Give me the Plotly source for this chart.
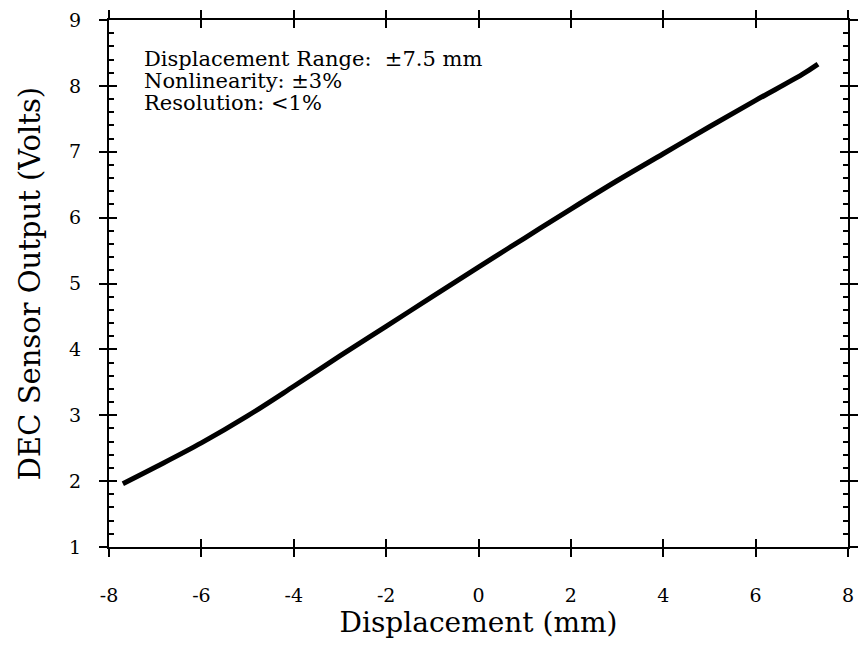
import plotly.graph_objects as go

# Data
disp_mm = [-7.7, -7.0, -6.0, -5.0, -4.0, -3.0, -2.0, -1.0, 0.0, 1.0, 2.0, 3.0, 4.0, 5.0, 6.0, 7.0, 7.35]
volts = [1.96, 2.21, 2.58, 2.99, 3.44, 3.90, 4.35, 4.80, 5.25, 5.69, 6.13, 6.56, 6.97, 7.38, 7.78, 8.17, 8.33]

x_ticks = [-8, -6, -4, -2, 0, 2, 4, 6, 8]
x_labels = ["-8", "-6", "-4", "-2", "0", "2", "4", "6", "8"]
y_ticks = [1, 2, 3, 4, 5, 6, 7, 8, 9]
y_labels = ["1", "2", "3", "4", "5", "6", "7", "8", "9"]
notes = ["Displacement Range:  \u00b17.5 mm", "Nonlinearity: \u00b13%", "Resolution: <1%"]
note_y = [0.926, 0.884, 0.842]

FONT = "DejaVu Serif"

fig = go.Figure()
fig.add_trace(go.Scatter(x=disp_mm, y=volts, mode="lines",
                         line=dict(color="black", width=5, shape="spline"),
                         showlegend=False, hoverinfo="skip"))
# invisible trace to anchor the overlay axes (for crossing ticks)
fig.add_trace(go.Scatter(x=[x_ticks[0]], y=[y_ticks[0]], xaxis="x2", yaxis="y2",
                         mode="markers", marker=dict(opacity=0), showlegend=False,
                         hoverinfo="skip"))

common = dict(showgrid=False, zeroline=False, color="black", automargin=False)
fig.update_layout(
    width=860, height=649,
    margin=dict(l=109, r=12, t=20, b=102),
    paper_bgcolor="white", plot_bgcolor="white",
    font=dict(family=FONT, color="black", size=19),
    xaxis=dict(range=[x_ticks[0], x_ticks[-1]], tickmode="array", tickvals=x_ticks,
               ticktext=x_labels, ticks="outside", ticklen=8, tickwidth=2,
               showline=True, linewidth=2, linecolor="black", mirror="allticks",
               ticklabelstandoff=22, tickfont=dict(size=19, family=FONT),
               title=dict(text="Displacement (mm)", font=dict(size=28, family=FONT), standoff=8),
               **common),
    yaxis=dict(range=[y_ticks[0], y_ticks[-1]], tickmode="array", tickvals=y_ticks,
               ticktext=y_labels, ticks="outside", ticklen=8, tickwidth=2,
               showline=True, linewidth=2, linecolor="black", mirror="allticks",
               ticklabelstandoff=14, tickfont=dict(size=19, family=FONT),
               title=dict(text="DEC Sensor Output (Volts)", font=dict(size=29, family=FONT), standoff=20),
               **common),
    xaxis2=dict(range=[x_ticks[0], x_ticks[-1]], tickmode="array", tickvals=x_ticks,
                ticktext=x_labels, ticks="inside", ticklen=8, tickwidth=2,
                overlaying="x", anchor="y2", mirror="allticks", showline=False,
                showticklabels=False, **common),
    yaxis2=dict(range=[y_ticks[0], y_ticks[-1]], tickmode="array", tickvals=y_ticks,
                ticktext=y_labels, ticks="inside", ticklen=8, tickwidth=2,
                overlaying="y", anchor="x2", mirror="allticks", showline=False,
                showticklabels=False,
                minor=dict(ticks="inside", tickmode="linear", tick0=1, dtick=0.2,
                           ticklen=5, tickwidth=2, tickcolor="black"),
                **common),
)

for txt, yy in zip(notes, note_y):
    fig.add_annotation(text=txt, xref="paper", yref="paper", x=0.044, y=yy,
                       xanchor="left", yanchor="middle", showarrow=False,
                       font=dict(size=21, family=FONT, color="black"))

fig.write_html("out.html")
